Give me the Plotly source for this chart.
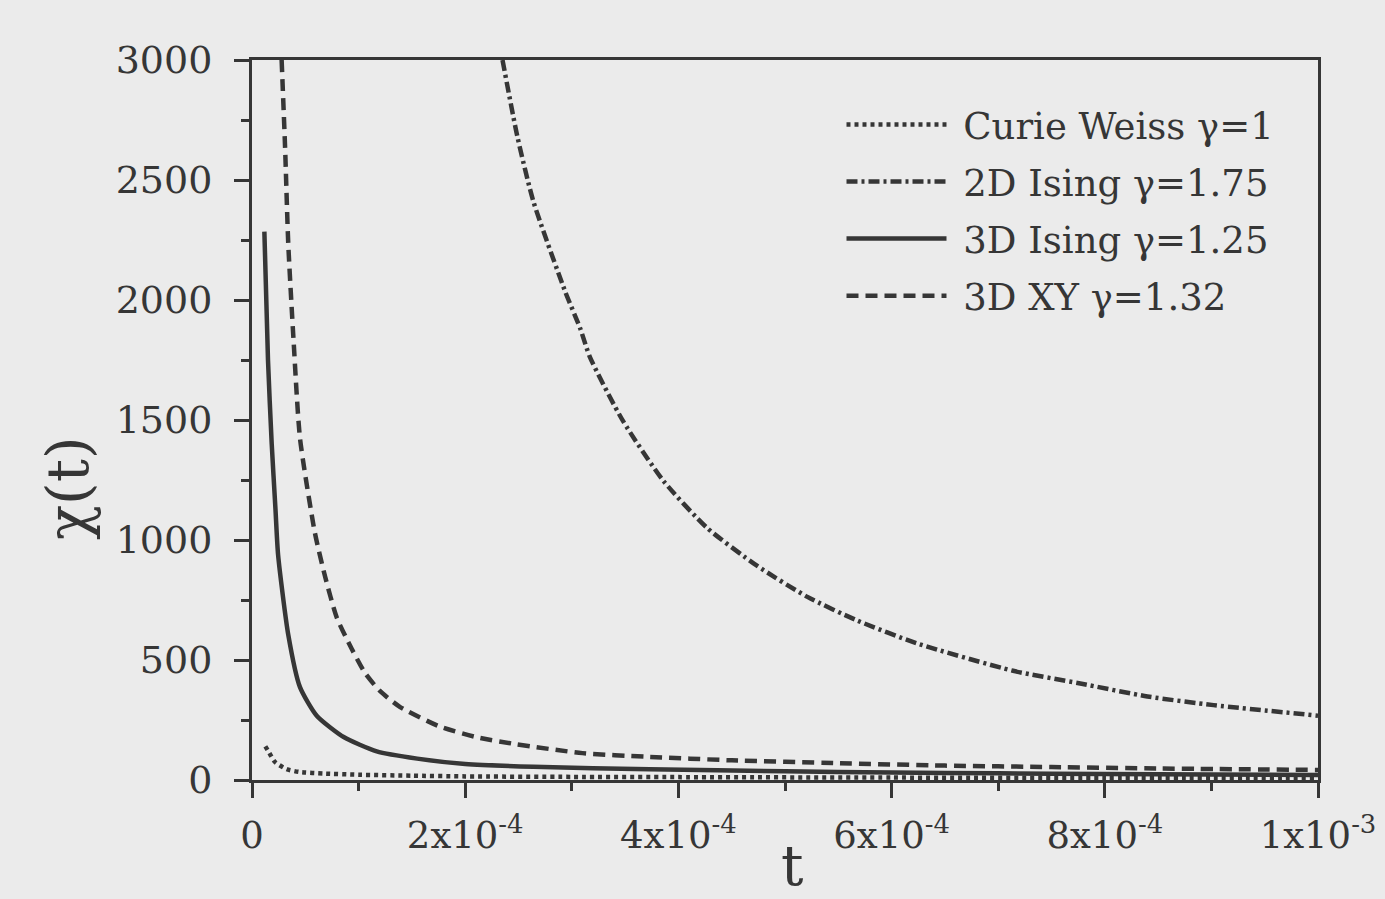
import plotly.graph_objects as go

# ---- data ----
cw_t = [1.25e-5, 1.53e-5, 2.16e-5, 3.25e-5, 4.5e-5, 6.7e-5, 1.0e-4, 1.5e-4, 2.0e-4,
        3.0e-4, 4.0e-4, 6.0e-4, 8.0e-4, 1.0e-3]
cw_chi = [140, 120, 75, 45, 33, 27, 22, 18, 15, 13, 12, 10, 9, 8]

ising2d_t = [2.35e-4, 2.49e-4, 2.64e-4, 2.94e-4, 3.08e-4, 3.17e-4, 3.48e-4, 3.86e-4,
             4.27e-4, 4.74e-4, 5.21e-4, 5.68e-4, 6.24e-4, 7.14e-4, 7.77e-4, 8.4e-4,
             9.02e-4, 1.0e-3]
ising2d_chi = [3000, 2680, 2410, 2033, 1880, 1762, 1496, 1246, 1050, 892, 763, 664,
               569, 455, 402, 348, 312, 268]

ising3d_t = [1.16e-5, 1.5e-5, 1.85e-5, 2.2e-5, 2.45e-5, 3.4e-5, 4.5e-5, 6.07e-5, 8.6e-5,
             1.17e-4, 1.55e-4, 2.0e-4, 2.64e-4, 3.73e-4, 5.0e-4, 6.0e-4, 7.0e-4, 8.0e-4,
             9.0e-4, 1.0e-3]
ising3d_chi = [2285, 1750, 1400, 1130, 937, 606, 387, 268, 179, 119, 89, 67, 55, 45,
               36, 31, 28, 25, 23, 21]

xy3d_t = [2.78e-5, 3.1e-5, 3.4e-5, 3.9e-5, 4.5e-5, 5.9e-5, 6.85e-5, 7.95e-5, 9.35e-5,
          1.06e-4, 1.2e-4, 1.39e-4, 1.76e-4, 2.1e-4, 2.48e-4, 3.1e-4, 3.7e-4, 4.5e-4,
          5.5e-4, 6.5e-4, 7.5e-4, 8.5e-4, 1.0e-3]
xy3d_chi = [3000, 2640, 2236, 1831, 1425, 1030, 849, 677, 547, 446, 371, 304, 223, 179,
            149, 112, 97, 82, 70, 60, 54, 48, 42]

series_names = ["Curie Weiss γ=1", "2D Ising γ=1.75", "3D Ising γ=1.25", "3D XY γ=1.32"]

x_tickvals = [0, 2e-4, 4e-4, 6e-4, 8e-4, 1e-3]
x_ticktext = ["0", "2x10<sup>-4</sup>", "4x10<sup>-4</sup>", "6x10<sup>-4</sup>",
              "8x10<sup>-4</sup>", "1x10<sup>-3</sup>"]
y_tickvals = [0, 500, 1000, 1500, 2000, 2500, 3000]
x_title = "t"
y_title = "χ(t)"

INK = "#363636"
BG = "#ebebeb"
FONT = "DejaVu Serif"

fig = go.Figure()
specs = [
    (cw_t, cw_chi, series_names[0], "4px,4px"),
    (ising2d_t, ising2d_chi, series_names[1], "11px,4px,3px,4px"),
    (ising3d_t, ising3d_chi, series_names[2], "solid"),
    (xy3d_t, xy3d_chi, series_names[3], "12px,7px"),
]
for i, (tx, ty, name, dash) in enumerate(specs):
    fig.add_trace(go.Scatter(
        x=tx, y=ty, name="\u00a0" + name, mode="lines", legendgroup=f"g{i}",
        line=dict(color=INK, width=4.5, dash=dash, shape="spline", smoothing=0.6),
        cliponaxis=True,
    ))

fig.update_layout(
    width=1385, height=899,
    margin=dict(l=252, r=67, t=60, b=119),
    paper_bgcolor=BG, plot_bgcolor=BG,
    font=dict(family=FONT, color=INK, size=34),
    showlegend=True,
    legend=dict(
        x=0.553, y=0.953, xanchor="left", yanchor="top",
        bgcolor="rgba(0,0,0,0)", borderwidth=0,
        font=dict(family=FONT, size=37, color=INK),
        itemwidth=100, tracegroupgap=6,
    ),
    annotations=[
        dict(text=y_title, xref="paper", yref="paper", x=-0.172, y=0.405,
             xanchor="center", yanchor="middle", textangle=-90, showarrow=False,
             font=dict(family=FONT, size=58, color=INK)),
        dict(text=x_title, xref="paper", yref="paper", x=0.507, y=-0.166,
             xanchor="center", yanchor="bottom", showarrow=False,
             font=dict(family=FONT, size=56, color=INK)),
    ],
)
fig.update_xaxes(
    range=[0, 1e-3], tickvals=x_tickvals, ticktext=x_ticktext,
    ticks="outside", ticklen=15, tickwidth=3, tickcolor=INK,
    minor=dict(dtick=1e-4, tick0=0, ticks="outside", ticklen=8, tickwidth=3, tickcolor=INK),
    showline=True, linecolor=INK, linewidth=3, mirror=True,
    showgrid=False, zeroline=False,
    tickfont=dict(family=FONT, size=37, color=INK), ticklabelstandoff=6,
    automargin=False,
)
fig.update_yaxes(
    range=[0, 3000], tickvals=y_tickvals,
    ticks="outside", ticklen=15, tickwidth=3, tickcolor=INK,
    minor=dict(dtick=250, tick0=0, ticks="outside", ticklen=8, tickwidth=3, tickcolor=INK),
    showline=True, linecolor=INK, linewidth=3, mirror=True,
    showgrid=False, zeroline=False,
    tickfont=dict(family=FONT, size=38, color=INK), ticklabelstandoff=14,
    automargin=False,
)

fig.write_html("out.html")
